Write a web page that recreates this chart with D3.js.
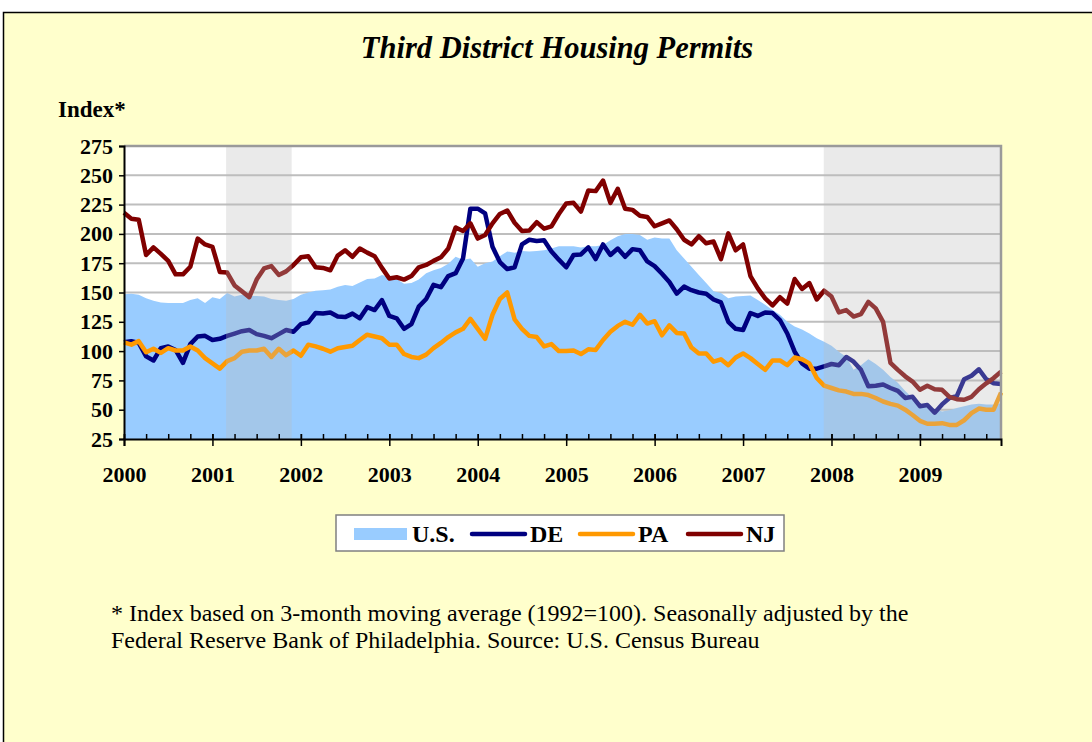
<!DOCTYPE html>
<html>
<head>
<meta charset="utf-8">
<script src="https://cdn.jsdelivr.net/npm/d3@7"></script>
<style>
body { margin: 0; background: #fff; }
text { font-family: "Liberation Serif", "Times New Roman", serif; }
</style>
</head>
<body>
<svg id="chart" width="1092" height="742"></svg>
<script>
// monthly index values, Jan 2000 .. Dec 2009 (1992=100)
var years = [2000, 2001, 2002, 2003, 2004, 2005, 2006, 2007, 2008, 2009];
var yTicks = [25, 50, 75, 100, 125, 150, 175, 200, 225, 250, 275];

var usValues = [148.5, 149, 148, 145, 143, 141.5, 141, 141, 141, 143.5, 145, 141, 146, 144.5, 149.5, 146.5, 148, 147, 147, 146.5,
  144.5, 143.5, 143, 144.5, 148, 150, 151.5, 152, 152.5, 155, 156.5, 155.5, 158.5, 161.5, 162, 165, 163, 161.5, 157.5, 158,
  161, 166.5, 169, 171, 174.5, 180.5, 178, 179, 172, 175, 176.5, 181, 185, 184, 185.5, 185, 185.5, 186, 187.5, 189.5,
  189.5, 189.5, 188.5, 189.5, 189.5, 190.5, 194.5, 198, 200, 200, 199, 195, 197, 196, 196, 186, 179, 172, 165, 158,
  151, 149.5, 145, 146.5, 147, 147.5, 143.5, 139.5, 135, 131, 125, 121, 118.5, 115, 111, 108, 104.5, 99.5, 95, 84,
  88, 93, 89, 84, 78, 73, 66, 60, 55.5, 53, 50.5, 48.5, 49.5, 51.5, 53, 54.5, 55, 54.5, 54.5, 55.5];

var deValues = [107.5, 108.5, 107, 95.5, 92, 102.5, 104, 101, 90, 106, 112.5, 113, 109.5, 110.5, 113, 115, 117, 118, 114.5, 113,
  111, 114.5, 118, 116.5, 123, 124.5, 132.5, 132, 133, 129.5, 129, 132, 128, 137.5, 135, 143.5, 130, 128, 119, 123,
  138, 144.5, 156.5, 154.5, 164, 166.5, 179, 221.5, 221.5, 217.5, 189, 176, 170, 171.5, 191, 195, 194, 194.5, 185, 178,
  171.5, 182, 182.5, 188.5, 178.5, 191, 182, 187.5, 180.5, 187, 186, 176.5, 172.5, 166, 159, 149, 155, 152, 150, 149,
  144, 141.5, 125, 119, 118, 132.5, 130, 133, 132.5, 126.5, 115, 99.5, 89.5, 85, 85, 87, 89, 88, 95, 91,
  84, 70, 70.5, 71.5, 68.5, 66, 60, 61, 53, 54, 47.5, 54.5, 60, 61.5, 76, 79, 84.5, 76, 72.5, 72];

var paValues = [107.5, 105.5, 108.5, 99, 102, 98.5, 102.5, 100.5, 100.5, 104, 100.5, 94, 89.5, 85, 91.5, 94, 99.5, 100.5, 100.5, 102,
  95, 102, 96.5, 100.5, 96, 105.5, 104, 102, 99.5, 102.5, 103.5, 104.5, 109.5, 114, 112.5, 111, 105.5, 105.5, 97.5, 95,
  94, 97, 102.5, 107, 112, 116, 119, 127.5, 119, 110.5, 131, 144.5, 150, 127, 119, 113, 112, 104, 106, 100,
  100, 100.5, 97.5, 101.5, 101, 109.5, 116.5, 121.5, 125, 122.5, 131, 123.5, 125.5, 113.5, 122, 115.5, 115, 103, 98, 98,
  91, 93, 88, 94.5, 98, 94, 89, 84, 92, 92, 88, 94.5, 93, 89.5, 77, 70.5, 68.5, 66.5, 65.5, 63.5,
  63.5, 62.5, 60, 57, 55, 53.5, 50, 45.5, 40.5, 38, 38, 38.5, 37, 37, 41, 47, 51, 50, 50, 64.5];

var njValues = [218, 213, 212, 182, 188.5, 183, 177, 165.5, 165.5, 172, 196, 191, 189, 167.5, 167, 156, 151, 146, 161, 170.5,
  172.5, 165, 168, 173.5, 180, 181, 171.5, 171, 169, 181.5, 186, 180.5, 187.5, 184, 181, 171, 162, 163, 161, 164,
  171.5, 173.5, 177, 180, 187.5, 205.5, 202.5, 209, 196, 199, 209, 217, 220, 209.5, 202.5, 203, 210, 204.5, 206.5, 217,
  226, 226.5, 219, 237, 236.5, 245.5, 226.5, 238.5, 221.5, 220.5, 215.5, 214.5, 206.5, 209, 211.5, 204, 195, 191, 198, 192,
  193.5, 178.5, 200.5, 186, 191, 164, 153.5, 145, 139, 146, 140.5, 161.5, 153, 158, 144, 151.5, 146.5, 133, 135, 129.5,
  131.5, 142, 136.5, 125, 90, 84, 78.5, 74, 67, 70.5, 67.5, 67, 61, 59, 58.5, 61, 67.5, 72.5, 77, 82.5];

// recessions as month index ranges
var recessions = [[13.85, 22.75], [94.95, 119]];

var svg = d3.select("#chart");

// yellow frame
svg.append("rect")
  .attr("x", 3.5).attr("y", 12.5)
  .attr("width", 1100).attr("height", 800)
  .attr("fill", "#FFFFCC")
  .attr("stroke", "#000").attr("stroke-width", 1.5);

svg.append("text")
  .attr("x", 557).attr("y", 58)
  .attr("text-anchor", "middle")
  .attr("font-size", "30.5px")
  .attr("font-weight", "bold")
  .attr("font-style", "italic")
  .text("Third District Housing Permits");

svg.append("text")
  .attr("x", 58).attr("y", 117)
  .attr("font-size", "23px")
  .attr("font-weight", "bold")
  .text("Index*");

var plotL = 124, plotR = 1001, plotT = 146, plotB = 439;

var x = d3.scaleLinear().domain([0, 119]).range([plotL, plotR]);
var y = d3.scaleLinear().domain([25, 275]).range([plotB, plotT]);

// plot area
svg.append("rect")
  .attr("x", plotL).attr("y", plotT)
  .attr("width", plotR - plotL).attr("height", plotB - plotT)
  .attr("fill", "#fff");

// gridlines
svg.append("g").selectAll("line")
  .data(yTicks.slice(1))
  .enter().append("line")
  .attr("x1", plotL).attr("x2", plotR)
  .attr("y1", d => y(d)).attr("y2", d => y(d))
  .attr("stroke", "#BEBEBE").attr("stroke-width", 2);

// U.S. area
var area = d3.area()
  .x((d, i) => x(i))
  .y0(y(25))
  .y1(d => y(d));

svg.append("path")
  .datum(usValues)
  .attr("fill", "#99CCFF")
  .attr("d", area);

var line = d3.line()
  .x((d, i) => x(i))
  .y(d => y(d));

var series = [
  { name: "DE", values: deValues, color: "#000080" },
  { name: "PA", values: paValues, color: "#FF9900" },
  { name: "NJ", values: njValues, color: "#800000" }
];

series.forEach(function (s) {
  svg.append("path")
    .datum(s.values)
    .attr("fill", "none")
    .attr("stroke", s.color)
    .attr("stroke-width", 4.5)
    .attr("stroke-linejoin", "round")
    .attr("d", line);
});

// recession shading sits on top of the lines
svg.append("g").selectAll("rect")
  .data(recessions)
  .enter().append("rect")
  .attr("x", d => x(d[0]))
  .attr("y", plotT)
  .attr("width", d => x(d[1]) - x(d[0]))
  .attr("height", plotB - plotT)
  .attr("fill", "rgb(188,188,188)")
  .attr("fill-opacity", 0.31);

// top and right border
svg.append("path")
  .attr("d", "M" + plotL + "," + plotT + "H" + plotR + "V" + plotB)
  .attr("fill", "none")
  .attr("stroke", "#9A9A9A").attr("stroke-width", 2.5);

// y axis
var yAxis = svg.append("g")
  .attr("transform", "translate(" + plotL + ",0)")
  .call(d3.axisLeft(y).tickValues(yTicks).tickSize(5).tickPadding(6));
yAxis.select(".domain").attr("stroke", "#000").attr("stroke-width", 2);
yAxis.selectAll("line").attr("stroke-width", 1.5);
yAxis.selectAll("text")
  .attr("font-family", "Liberation Serif")
  .attr("font-size", "22px")
  .attr("font-weight", "bold")
  .attr("fill", "#000");

// minor (quarterly) ticks, inside
var quarters = d3.range(0, 120, 3);
svg.append("g")
  .attr("transform", "translate(0," + plotB + ")")
  .call(d3.axisBottom(x).tickValues(quarters).tickSize(-5).tickFormat(""))
  .call(g => g.select(".domain").remove())
  .selectAll("line").attr("stroke-width", 1.5);

// year ticks and labels
var yearIdx = years.map((d, i) => i * 12);
var xAxis = svg.append("g")
  .attr("transform", "translate(0," + plotB + ")")
  .call(d3.axisBottom(x).tickValues(yearIdx).tickSize(7).tickPadding(20)
    .tickFormat((d, i) => years[i]));
xAxis.select(".domain").attr("stroke", "#000").attr("stroke-width", 2);
xAxis.selectAll("line").attr("y1", -5).attr("stroke-width", 1.5);
xAxis.selectAll("text")
  .attr("font-family", "Liberation Serif")
  .attr("font-size", "22px")
  .attr("font-weight", "bold")
  .attr("fill", "#000");

// legend
var legend = svg.append("g");
legend.append("rect")
  .attr("x", 336).attr("y", 515)
  .attr("width", 448).attr("height", 36)
  .attr("fill", "#fff")
  .attr("stroke", "#808080").attr("stroke-width", 1.5);

legend.append("rect")
  .attr("x", 354).attr("y", 528)
  .attr("width", 53).attr("height", 12)
  .attr("fill", "#99CCFF");
legend.append("text")
  .attr("x", 412).attr("y", 542)
  .attr("font-size", "24px").attr("font-weight", "bold")
  .text("U.S.");

var legendItems = [
  { name: "DE", color: "#000080", x: 472 },
  { name: "PA", color: "#FF9900", x: 580 },
  { name: "NJ", color: "#800000", x: 688 }
];
legendItems.forEach(function (d) {
  legend.append("line")
    .attr("x1", d.x).attr("x2", d.x + 53)
    .attr("y1", 534).attr("y2", 534)
    .attr("stroke", d.color).attr("stroke-width", 4.5)
    .attr("stroke-linecap", "round");
  legend.append("text")
    .attr("x", d.x + 58).attr("y", 542)
    .attr("font-size", "24px").attr("font-weight", "bold")
    .text(d.name);
});

// footnote
svg.append("text")
  .attr("x", 111).attr("y", 621)
  .attr("font-size", "24px")
  .text("* Index based on 3-month moving average (1992=100). Seasonally adjusted by the");
svg.append("text")
  .attr("x", 111).attr("y", 648)
  .attr("font-size", "24px")
  .text("Federal Reserve Bank of Philadelphia. Source: U.S. Census Bureau");
</script>
</body>
</html>
